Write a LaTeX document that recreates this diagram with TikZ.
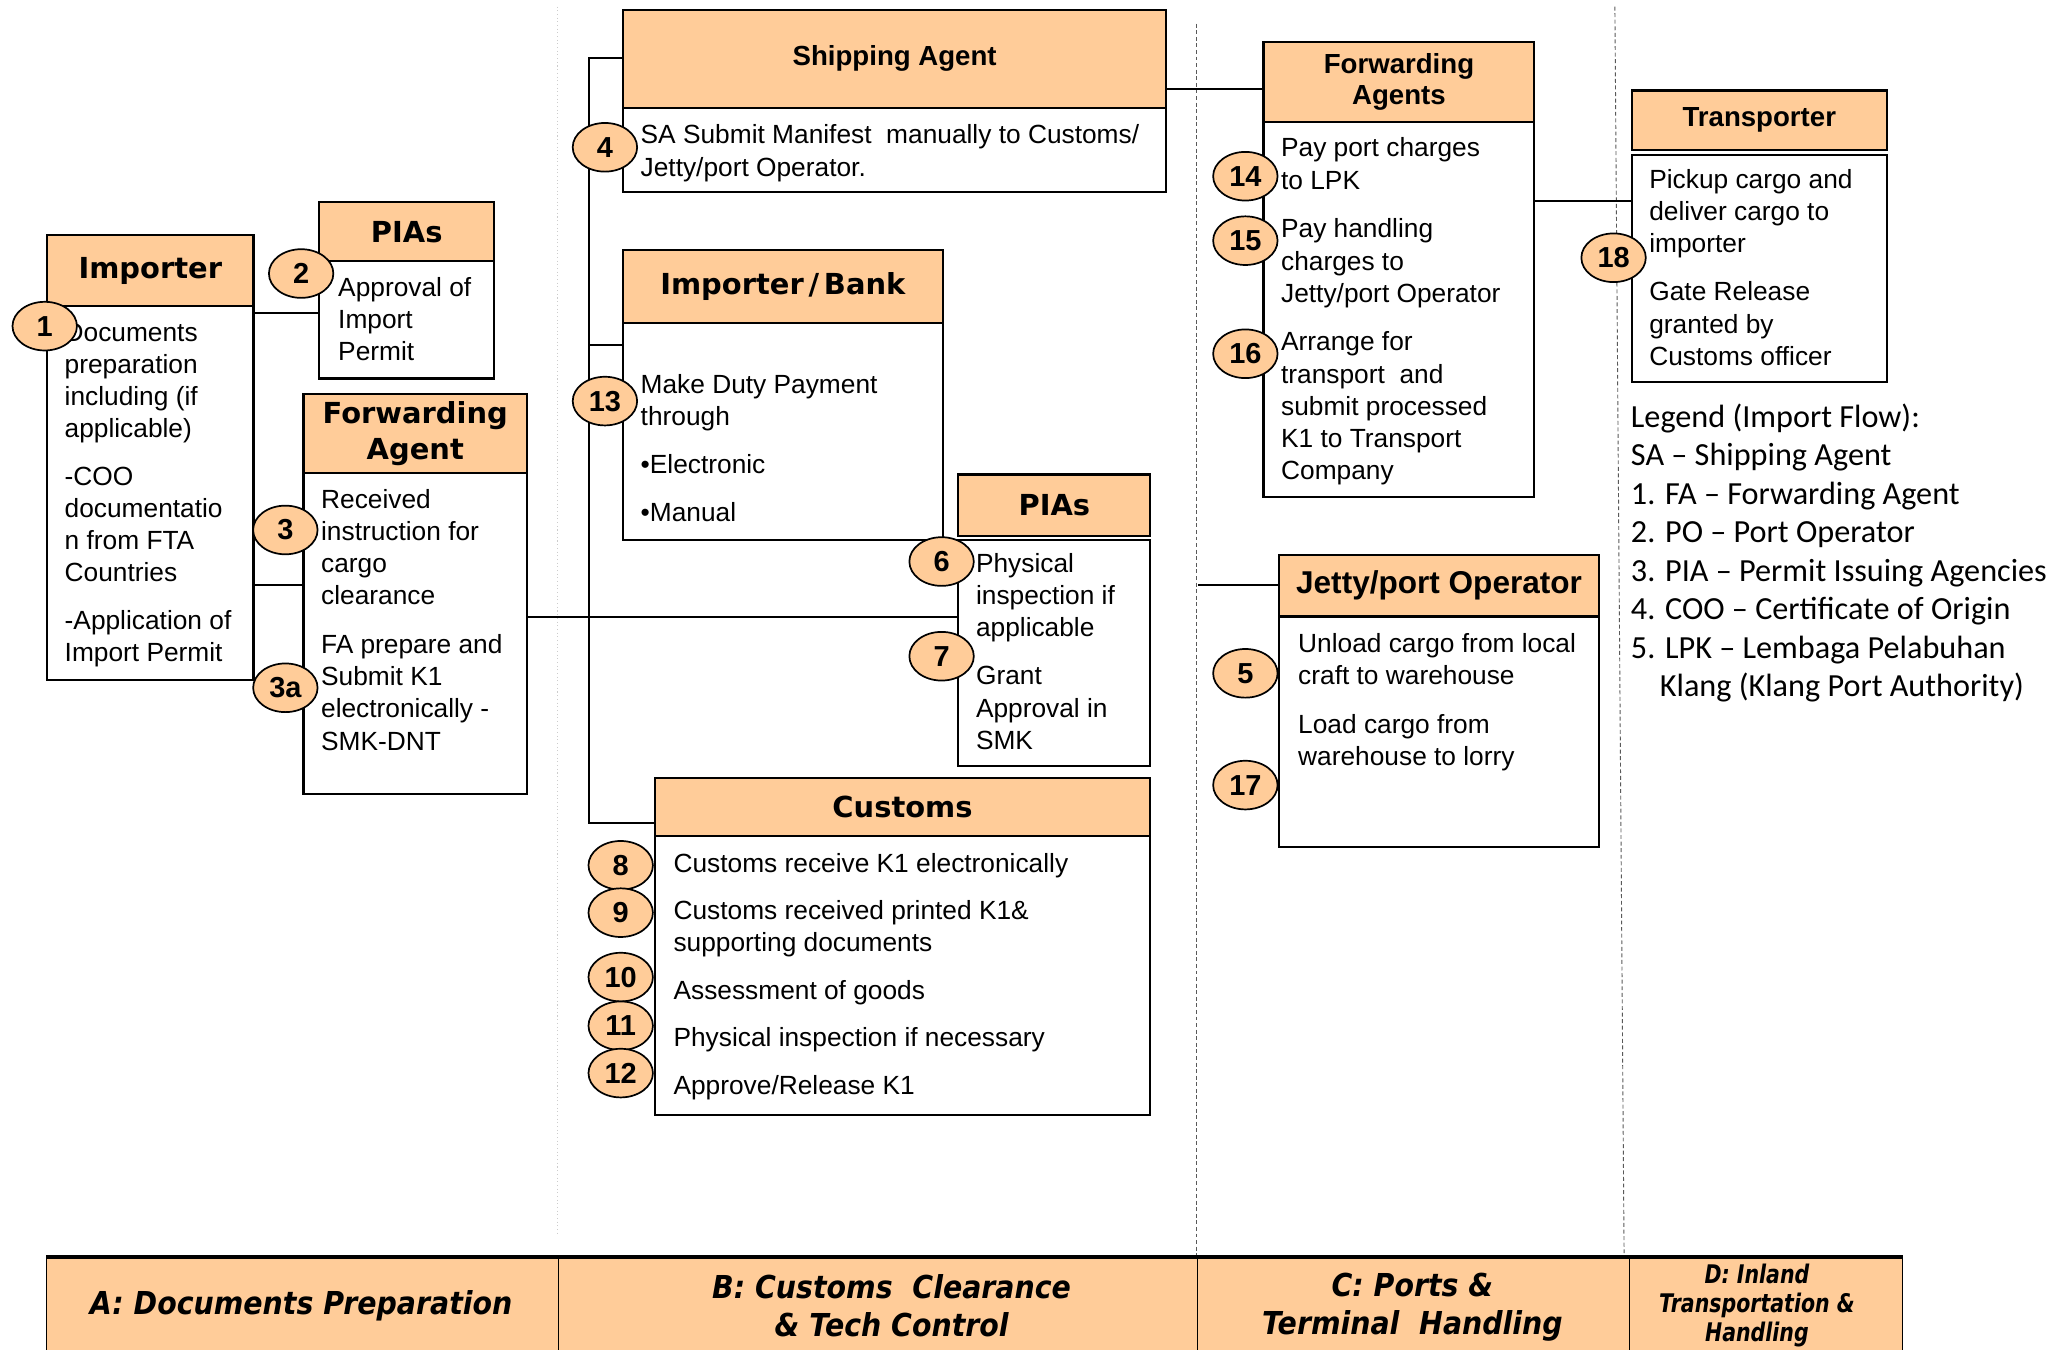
\documentclass[tikz,border=0pt]{standalone}
\usepackage{fontspec}
\setmainfont{Liberation Sans}
\newfontfamily\vfont{DejaVu Sans}
\newfontfamily\legfont[Ligatures=TeX]{Carlito}
\newfontfamily\bandfont[FakeStretch=0.9]{DejaVu Sans}
\newfontfamily\banddfont[FakeStretch=0.8]{DejaVu Sans}
\usetikzlibrary{shapes.geometric}
\definecolor{peach}{HTML}{FFCC99}
\tikzset{
 box/.style={draw=black, line width=1.6pt, inner sep=0pt, anchor=north west},
 hdr/.style={box, fill=peach},
 bodybox/.style={box, fill=white},
 txt/.style={anchor=north west, inner sep=0pt, align=left, font=\fontsize{20}{24.5}\selectfont},
 vhead/.style={font=\vfont\bfseries\fontsize{22}{28}\selectfont, align=center},
 ahead/.style={font=\bfseries\fontsize{21}{24}\selectfont, align=center},
 num/.style={ellipse, draw=black, line width=1.3pt, fill=peach, minimum width=49pt, minimum height=37pt, inner sep=0pt, font=\bfseries\fontsize{22}{24}\selectfont},
 conn/.style={line width=1.5pt},
 band/.style={draw=black, line width=0.8pt, fill=peach, anchor=north west, inner sep=0pt},
 bandtxt/.style={inner sep=0pt, align=center, font=\bandfont\bfseries\itshape\fontsize{24}{29}\selectfont},
 banddtxt/.style={inner sep=0pt, align=center, font=\banddfont\bfseries\itshape\fontsize{19.5}{22}\selectfont},
}
\begin{document}
\begin{tikzpicture}[x=1pt,y=-1pt]
\useasboundingbox (0,0) rectangle (1568,1026);
% separators
\draw[gray!40, dotted, line width=0.8pt] (424,5) -- (424,940);
\draw[gray!70!black, densely dashed, line width=0.7pt] (910,18) -- (910,955);
\draw[gray!70!black, densely dashed, line width=0.7pt] (1228,5) -- (1235,955);

% Importer
\node[hdr, vhead, minimum width=157, minimum height=54] (impH) at (35,178) {Importer};
\node[bodybox, minimum width=157, minimum height=284] (impB) at (35,232) {};
\node[txt] (impT) at (49,242) {\strut Documents\\preparation\\including (if\\applicable)\\[11.5pt]-COO\\documentatio\\n from FTA\\Countries\\[11.5pt]-Application of\\Import Permit};

% PIAs top
\node[hdr, vhead, minimum width=133, minimum height=45] (piaAH) at (242,153) {PIAs};
\node[bodybox, minimum width=133, minimum height=89] (piaAB) at (242,198) {};
\node[txt] (piaAT) at (257,208) {\strut Approval of\\Import\\Permit};

% Forwarding Agent
\node[hdr, vhead, minimum width=170, minimum height=60] (faH) at (230,299) {Forwarding\\Agent};
\node[bodybox, minimum width=170, minimum height=244] (faB) at (230,359) {};
\node[txt] (faT) at (244,369) {\strut Received\\instruction for\\cargo\\clearance\\[12.5pt]FA prepare and\\Submit K1\\electronically -\\SMK-DNT};

% Shipping Agent
\node[hdr, ahead, minimum width=413, minimum height=74] (shipH) at (473,7) {Shipping Agent};
\node[bodybox, minimum width=413, minimum height=64] (shipB) at (473,81) {};
\node[txt] (shipT) at (487,92) {\strut SA Submit Manifest\ \ manually to Customs/\\Jetty/port Operator.};

% Importer/Bank
\node[hdr, vhead, minimum width=243, minimum height=56] (bankH) at (473,189) {Importer\,/\,Bank};
\node[bodybox, minimum width=243, minimum height=165] (bankB) at (473,245) {};
\node[txt] (bankT) at (487,282) {\strut Make Duty Payment\\through\\[12pt]\textbullet Electronic\\[11.5pt]\textbullet Manual};

% PIAs middle
\node[hdr, vhead, minimum width=146, minimum height=47] (piaBH) at (728,360) {PIAs};
\node[bodybox, minimum width=146, minimum height=172] (piaBB) at (728,410) {};
\node[txt] (piaBT) at (742,418) {\strut Physical\\inspection if\\applicable\\[12pt]Grant\\Approval in\\SMK};

% Customs
\node[hdr, vhead, minimum width=377, minimum height=44] (custH) at (497,591) {Customs};
\node[bodybox, minimum width=377, minimum height=212] (custB) at (497,635) {};
\node[txt] (custT) at (512,646) {\strut Customs receive K1 electronically\\[11.5pt]Customs received printed K1\&\\supporting documents\\[11.5pt]Assessment of goods\\[11.5pt]Physical inspection if necessary\\[12pt]Approve/Release K1};

% Forwarding Agents
\node[hdr, ahead, minimum width=206, minimum height=61] (fwaH) at (960,31) {Forwarding\\Agents};
\node[bodybox, minimum width=206, minimum height=285] (fwaB) at (960,92) {};
\node[txt] (fwaT) at (974,102) {\strut Pay port charges\\to LPK\\[12.5pt]Pay handling\\charges to\\Jetty/port Operator\\[12.5pt]Arrange for\\transport\ \ and\\submit processed\\K1 to Transport\\Company};

% Transporter
\node[hdr, ahead, minimum width=194, minimum height=45] (trH) at (1240,68) {Transporter};
\node[bodybox, minimum width=194, minimum height=173] (trB) at (1240,117) {};
\node[txt] (trT) at (1254,126) {\strut Pickup cargo and\\deliver cargo to\\importer\\[12pt]Gate Release\\granted by\\Customs officer};

% Jetty/port Operator
\node[hdr, font=\bfseries\fontsize{24}{26}\selectfont, minimum width=243, minimum height=47] (jetH) at (972,421) {Jetty/port Operator};
\node[bodybox, minimum width=243, minimum height=175] (jetB) at (972,468) {};
\node[txt] (jetT) at (987,479) {\strut Unload cargo from local\\craft to warehouse\\[12.5pt]Load cargo from\\warehouse to lorry};

% Legend
\node[anchor=north west, inner sep=0pt, align=left, font=\legfont\fontsize{24.5}{29.3}\selectfont] (legend) at (1240,304) {\strut Legend (Import Flow):\\SA – Shipping Agent\\1. FA – Forwarding Agent\\2. PO – Port Operator\\3. PIA – Permit Issuing Agencies\\4. COO – Certificate of Origin\\5. LPK – Lembaga Pelabuhan\\\hspace*{22pt}Klang (Klang Port Authority)};

% connectors
\coordinate (busTop) at (448,44);
\coordinate (busBot) at (448,626);
\coordinate (jetStart) at (911,445);
\draw[conn] (impB.east |- 0,238) -- (piaAB.west |- 0,238);
\draw[conn] (impB.east |- 0,445) -- (faB.west |- 0,445);
\draw[conn] (faB.east |- 0,469) -- (piaBB.west |- 0,469);
\draw[conn] (shipH.west |- busTop) -- (busTop) -- (busBot) -- (custH.west |- busBot);
\draw[conn] (busTop |- 0,262) -- (bankB.west |- 0,262);
\draw[conn] (shipH.east |- 0,68) -- (fwaH.west |- 0,68);
\draw[conn] (fwaB.east |- 0,153) -- (trB.west |- 0,153);
\draw[conn] (jetStart) -- (jetH.west |- jetStart);

% numbers
\node[num] (n1) at (34,248) {1};
\node[num] (n2) at (229,208) {2};
\node[num] (n3) at (217,403) {3};
\node[num] (n3a) at (217,523) {3a};
\node[num] (n4) at (460,112) {4};
\node[num] (n13) at (460,305) {13};
\node[num] (n6) at (716,427) {6};
\node[num] (n7) at (716,499) {7};
\node[num] (n8) at (472,658) {8};
\node[num] (n9) at (472,694) {9};
\node[num] (n10) at (472,743) {10};
\node[num] (n11) at (472,780) {11};
\node[num] (n12) at (472,816) {12};
\node[num] (n14) at (947,134) {14};
\node[num] (n15) at (947,183) {15};
\node[num] (n16) at (947,269) {16};
\node[num] (n18) at (1227,196) {18};
\node[num] (n5) at (947,512) {5};
\node[num] (n17) at (947,597) {17};

% bottom band
\node[band, minimum width=389, minimum height=80] (bandA) at (35,956) {};
\node[band, minimum width=486, minimum height=80] (bandB) at (424,956) {};
\node[band, minimum width=329, minimum height=80] (bandC) at (910,956) {};
\node[band, minimum width=207, minimum height=80] (bandD) at (1239,956) {};
\draw[line width=3pt] (bandA.north west) -- (bandD.north east);
\node[bandtxt] (bandAt) at (229,993) {A: Documents Preparation};
\node[bandtxt] (bandBt) at (678,993) {B: Customs\ \ Clearance\\\& Tech Control};
\node[bandtxt] (bandCt) at (1074,994) {C: Ports \&\\Terminal\ \ Handling};
\node[banddtxt] (bandDt) at (1336,993) {D: Inland\\Transportation \&\\Handling};
\end{tikzpicture}
\end{document}
